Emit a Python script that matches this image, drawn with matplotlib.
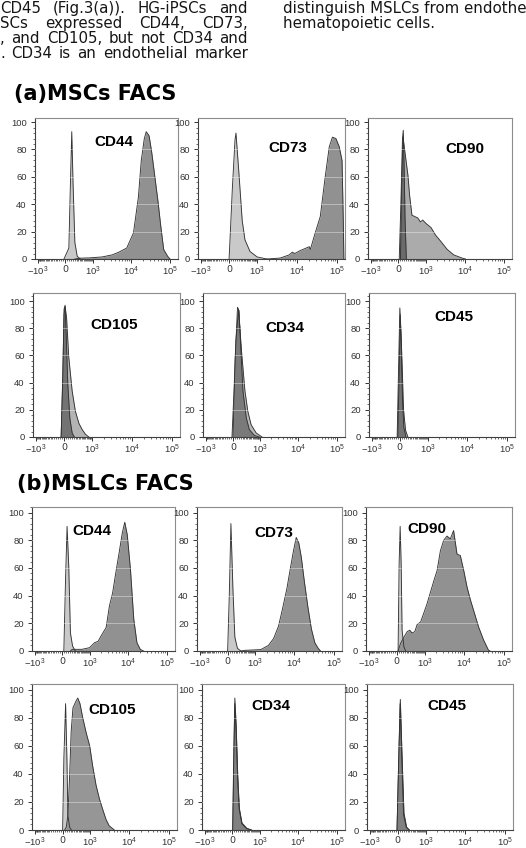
import matplotlib
matplotlib.use("Agg")
import matplotlib.pyplot as plt
from matplotlib.ticker import FixedLocator, AutoMinorLocator

plt.rcParams['mathtext.fontset'] = 'custom'
plt.rcParams['mathtext.rm'] = 'Liberation Sans'
plt.rcParams['mathtext.it'] = 'Liberation Sans:italic'
plt.rcParams['mathtext.bf'] = 'Liberation Sans:bold'

W, H = 526, 848  # figure size in pixels

# ---- text above the figure ----
left_lines = [
    "CD45 (Fig.3(a)). HG-iPSCs and",
    "SCs expressed CD44, CD73,",
    ", and CD105, but not CD34 and",
    ". CD34 is an endothelial marker",
]
right_lines = ["distinguish MSLCs from endothe", "hematopoietic cells."]
heading_a = "(a)MSCs FACS"
heading_b = "(b)MSLCs FACS"

# ---- axes ticks (biexponential fluorescence axis, % of max on y) ----
x_ticks = [-1000, 0, 1000, 10000, 100000]
x_ticklabels = ['$-10^3$', '0', '$10^3$', '$10^4$', '$10^5$']
y_ticks = [0, 20, 40, 60, 80, 100]

# ---- (a) MSCs: isotype (iso) and stained histograms ----
a_cd44_iso_x = [-30, 90, 130, 165, 200, 250, 320, 420]
a_cd44_iso_y = [0, 8, 55, 93, 55, 12, 2, 0]
a_cd44_x = [250, 400, 800, 1800, 3300, 4900, 7800, 11600, 15500, 18400, 22000,
            24600, 29200, 34000, 38900, 48800, 58000, 68800, 86800, 100000]
a_cd44_y = [0, 0.6, 0.8, 1.5, 3, 5, 8, 19, 45, 72, 88, 93, 90, 78, 65, 43, 24, 7, 2, 0]

a_cd73_iso_x = [0, 15, 80, 145, 170, 245, 345, 435, 630, 1000, 1800]
a_cd73_iso_y = [0, 9, 52, 87, 92, 64, 28, 14, 5.5, 1.5, 0]
a_cd73_x = [1800, 3900, 6550, 7800, 9000, 12000, 20700, 22000, 29000, 38800,
            51500, 65000, 78000, 95000, 115000, 135000, 145000, 150000]
a_cd73_y = [0, 0.7, 3, 5, 4, 6, 9, 7, 19, 31, 60, 82, 89, 88, 82, 72, 28, 0]

a_cd90_iso_x = [20, 60, 100, 120, 140, 165, 200]
a_cd90_iso_y = [0, 40, 88, 94, 70, 30, 0]
a_cd90_x = [50, 80, 113, 245, 290, 365, 580, 700, 810, 1000, 1370, 1800, 2450,
            3600, 5300, 8600, 10500]
a_cd90_y = [0, 54, 89, 61, 47, 32, 30, 27, 28.5, 26, 23, 17.5, 13, 7, 3, 0.7, 0]

a_cd105_iso_x = [-70, -30, 0, 25, 55, 90, 140, 200, 260]
a_cd105_iso_y = [0, 46, 94, 97, 71, 39, 14, 3, 0]
a_cd105_x = [-70, -30, 0, 25, 60, 113, 200, 290, 400, 515, 650, 810]
a_cd105_y = [0, 44, 90, 96, 88, 59, 34, 19, 10, 5.5, 2, 0]

a_cd34_iso_x = [0, 55, 113, 150, 190, 260, 365, 470, 680, 950]
a_cd34_iso_y = [0, 58, 95.5, 93, 71, 34, 14, 5.5, 1.2, 0]
a_cd34_x = [-25, 25, 72, 140, 220, 320, 415, 540, 770, 1130]
a_cd34_y = [0, 34, 71, 94, 63, 34, 19, 9, 3, 0]

a_cd45_iso_x = [-65, -25, 0, 30, 65, 97, 150]
a_cd45_iso_y = [0, 59, 95, 72, 27, 7, 0]
a_cd45_x = [-50, -15, 10, 45, 90, 140, 200]
a_cd45_y = [0, 50, 90, 62, 20, 5, 0]

# ---- (b) MSLCs ----
b_cd44_iso_x = [40, 80, 121, 165, 210, 270, 355]
b_cd44_iso_y = [0, 49, 90, 61, 13, 3.6, 0]
b_cd44_x = [210, 260, 600, 1000, 1370, 1700, 2050, 2760, 3350, 4050, 4920, 5950,
            7200, 8300, 9600, 11600, 14100, 17000, 20700, 25000]
b_cd44_y = [0, 1.2, 1.2, 2.4, 6, 7, 11, 17, 32.5, 42, 57, 71, 85.5, 93, 84, 59,
            23, 6, 1.2, 0]

b_cd73_iso_x = [0, 40, 80, 130, 180, 250, 350]
b_cd73_iso_y = [0, 40, 92, 45, 10, 2, 0]
b_cd73_x = [350, 500, 1400, 2200, 3000, 4000, 5000, 6500, 8000, 9500, 11200,
            13000, 15000, 18000, 22000, 27000, 33000, 40000, 46000]
b_cd73_y = [0, 0.5, 1, 4, 9, 18, 30, 45, 60, 72, 82, 78, 68, 50, 32, 16, 6, 2, 0]

b_cd90_iso_x = [30, 55, 80, 105, 128, 175, 220]
b_cd90_iso_y = [0, 63, 90, 63, 15, 3, 0]
b_cd90_x = [30, 90, 175, 265, 340, 415, 515, 605, 770, 960, 1150, 1420, 1750,
            2100, 2560, 3100, 3750, 4550, 5500, 6700, 8100, 9900, 12000, 14500,
            17600, 23200, 31000, 41000, 45000]
b_cd90_y = [0, 5.5, 10, 14, 15, 13, 14, 19, 21, 28, 34, 42.5, 51, 58, 72.5, 80,
            83, 81, 87, 70, 69, 58, 46, 37, 29, 17.5, 8, 0.7, 0]

b_cd105_iso_x = [0, 30, 72, 105, 130, 175, 220]
b_cd105_iso_y = [0, 51, 90, 51, 10, 2, 0]
b_cd105_x = [48, 88, 128, 175, 215, 265, 350, 415, 495, 605, 770, 960, 1150,
             1420, 1750, 2100, 2560, 3100, 4200]
b_cd105_y = [0, 2, 10, 39, 70, 87, 91.5, 94, 90, 80, 69, 60, 46, 32, 22, 15,
             7.7, 3, 0]

b_cd34_iso_x = [10, 35, 62, 95, 135, 175, 250, 400, 560]
b_cd34_iso_y = [0, 48, 90, 72, 37, 15, 4.5, 1, 0]
b_cd34_x = [15, 40, 65, 97, 138, 180, 253, 405, 590]
b_cd34_y = [0, 51, 94, 75, 39, 15.5, 5, 1.2, 0]

b_cd45_iso_x = [-20, 20, 55, 95, 140, 210, 290]
b_cd45_iso_y = [0, 48, 90, 52, 11, 2, 0]
b_cd45_x = [-20, 20, 60, 100, 150, 220, 300]
b_cd45_y = [0, 50, 93, 55, 12, 2, 0]

markers = ["CD44", "CD73", "CD90", "CD105", "CD34", "CD45"]

panels = [
    [(a_cd44_iso_x, a_cd44_iso_y, a_cd44_x, a_cd44_y),
     (a_cd73_iso_x, a_cd73_iso_y, a_cd73_x, a_cd73_y),
     (a_cd90_iso_x, a_cd90_iso_y, a_cd90_x, a_cd90_y),
     (a_cd105_iso_x, a_cd105_iso_y, a_cd105_x, a_cd105_y),
     (a_cd34_iso_x, a_cd34_iso_y, a_cd34_x, a_cd34_y),
     (a_cd45_iso_x, a_cd45_iso_y, a_cd45_x, a_cd45_y)],
    [(b_cd44_iso_x, b_cd44_iso_y, b_cd44_x, b_cd44_y),
     (b_cd73_iso_x, b_cd73_iso_y, b_cd73_x, b_cd73_y),
     (b_cd90_iso_x, b_cd90_iso_y, b_cd90_x, b_cd90_y),
     (b_cd105_iso_x, b_cd105_iso_y, b_cd105_x, b_cd105_y),
     (b_cd34_iso_x, b_cd34_iso_y, b_cd34_x, b_cd34_y),
     (b_cd45_iso_x, b_cd45_iso_y, b_cd45_x, b_cd45_y)],
]

# grey shades (iso, stained) for each panel
shades = [
    [('0.79', '0.57'), ('0.79', '0.57'), ('0.42', '0.67'),
     ('0.45', '0.70'), ('0.48', '0.72'), ('0.45', '0.72')],
    [('0.79', '0.57'), ('0.79', '0.57'), ('0.79', '0.57'),
     ('0.79', '0.59'), ('0.75', '0.50'), ('0.75', '0.50')],
]
label_pos = [
    [(0.55, 0.83), (0.61, 0.79), (0.67, 0.78), (0.55, 0.78), (0.58, 0.755), (0.58, 0.83)],
    [(0.42, 0.83), (0.53, 0.82), (0.42, 0.85), (0.55, 0.82), (0.48, 0.85), (0.55, 0.85)],
]

# pixel layout: (top, bottom, ylim top, [(left, right) x3])
rows = [
    (118, 259, 103, [(35, 178), (198, 345), (368, 512)]),
    (293, 437, 106, [(33, 180), (203, 345), (369, 515)]),
    (507, 651, 104, [(32, 175), (197, 342), (366, 512)]),
    (684, 830, 104, [(32, 177), (202, 345), (367, 513)]),
]

x_minor = list(range(-1000, 1001, 50)) + [k * 10 ** e for e in (3, 4) for k in range(2, 10)]

fig = plt.figure(figsize=(W / 100, H / 100), dpi=100)
renderer = fig.canvas.get_renderer()


def justify(line, x0, x1, y_base, size):
    words = line.split()
    arts = [fig.text(0, 1 - y_base / H, w, fontsize=size, va='baseline',
                     family='DejaVu Sans', color='#151515') for w in words]
    widths = [a.get_window_extent(renderer).width for a in arts]
    gap = (x1 - x0 - sum(widths)) / max(len(words) - 1, 1)
    x = x0
    for a, w in zip(arts, widths):
        a.set_x(x / W)
        x += w + gap


for i, line in enumerate(left_lines):
    justify(line, 0, 248, 13 + 15 * i, 10.8)
for i, line in enumerate(right_lines):
    fig.text(283 / W, 1 - (13 + 15 * i) / H, line, fontsize=10.8, va='baseline',
             family='DejaVu Sans', color='#151515')

fig.text(14 / W, 1 - 100 / H, heading_a, fontsize=15, fontweight='bold',
         family='DejaVu Sans', va='baseline')
fig.text(17 / W, 1 - 490 / H, heading_b, fontsize=15, fontweight='bold',
         family='DejaVu Sans', va='baseline')

for r, (top, bottom, ytop, cols) in enumerate(rows):
    grp = r // 2
    for c, (x0, x1) in enumerate(cols):
        k = (r % 2) * 3 + c
        iso_x, iso_y, st_x, st_y = panels[grp][k]
        iso_c, st_c = shades[grp][k]
        ax = fig.add_axes([x0 / W, 1 - bottom / H, (x1 - x0) / W, (bottom - top) / H])
        ax.set_xscale('asinh', linear_width=417)

        curves = [(iso_x, iso_y, iso_c), (st_x, st_y, st_c)]
        # lighter histogram first, darker one on top
        for xs, ys, shade in sorted(curves, key=lambda t: -float(t[2])):
            ax.fill_between(xs, ys, 0, color=shade, lw=0)
            ax.plot(xs, ys, color='0.2', lw=0.65)
        for yv in y_ticks[1:-1]:
            ax.axhline(yv, color='white', lw=0.6, alpha=0.45, zorder=3)

        ax.set_xlim(-1200, 160000)
        ax.set_ylim(0, ytop)
        ax.xaxis.set_major_locator(FixedLocator(x_ticks))
        ax.set_xticklabels(x_ticklabels)
        ax.xaxis.set_minor_locator(FixedLocator(x_minor))
        ax.set_yticks(y_ticks)
        ax.yaxis.set_minor_locator(AutoMinorLocator(5))
        ax.tick_params(axis='both', which='major', labelsize=6.8, labelcolor='0.2',
                       color='0.2', direction='out', length=2.6, width=0.7, pad=1.8)
        ax.tick_params(axis='y', which='major', length=3, pad=3)
        ax.tick_params(axis='both', which='minor', color='0.2', direction='out',
                       length=1.5, width=0.5)
        for lab in ax.get_yticklabels():
            lab.set_family('Liberation Sans')
        for side in ('top', 'right'):
            ax.spines[side].set_color('0.55')
            ax.spines[side].set_linewidth(0.8)
        for side in ('left', 'bottom'):
            ax.spines[side].set_color('0.25')
            ax.spines[side].set_linewidth(0.8)

        fx, fy = label_pos[grp][k]
        ax.text(fx, fy, markers[k], transform=ax.transAxes, ha='center', va='center',
                fontsize=11, fontweight='bold', family='Liberation Sans')

fig.savefig('out.png', dpi=100)
